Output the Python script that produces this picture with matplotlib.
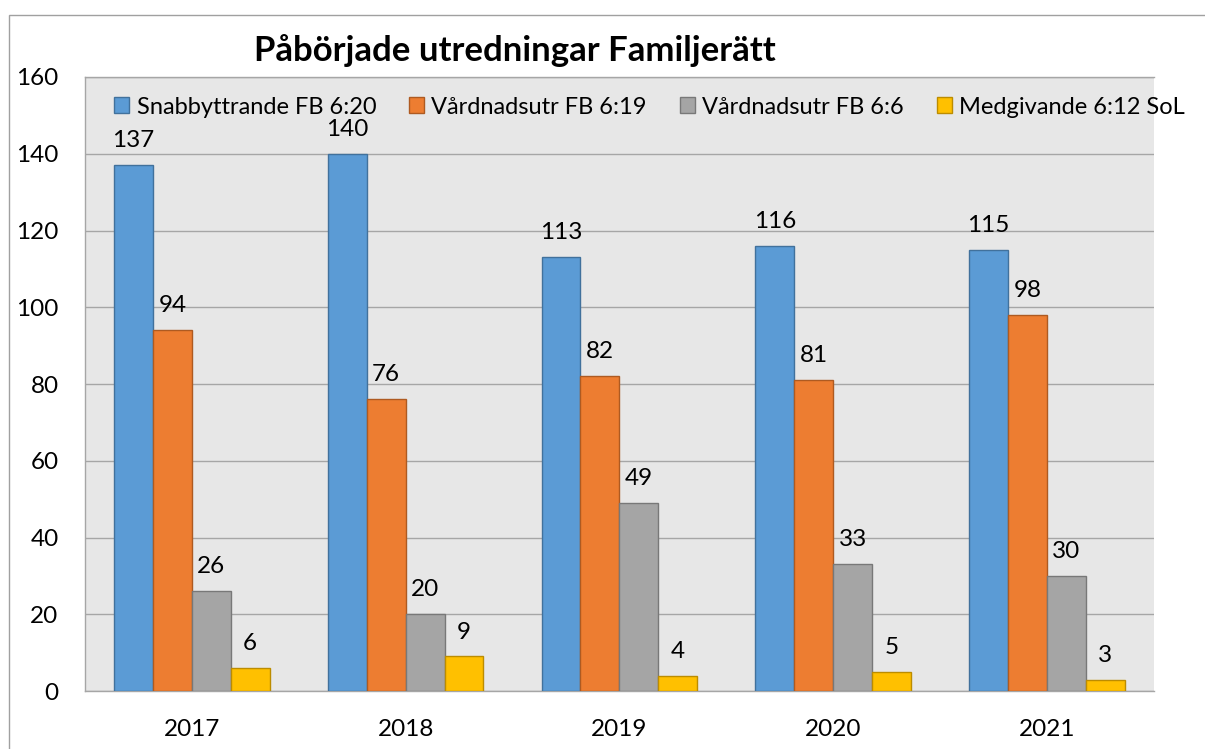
import matplotlib

matplotlib.use("Agg")
import matplotlib.pyplot as plt
from matplotlib.patches import Rectangle
import numpy as np

plt.rcParams["font.family"] = ["Lato", "DejaVu Sans"]

years = ["2017", "2018", "2019", "2020", "2021"]
series_names = [
    "Snabbyttrande FB 6:20",
    "Vårdnadsutr FB 6:19",
    "Vårdnadsutr FB 6:6",
    "Medgivande 6:12 SoL",
]
snabb = [137, 140, 113, 116, 115]
vard_619 = [94, 76, 82, 81, 98]
vard_66 = [26, 20, 49, 33, 30]
medgiv = [6, 9, 4, 5, 3]

FACE = ["#5b9bd5", "#ed7d31", "#a5a5a5", "#ffc000"]
EDGE = ["#41719c", "#ae5a21", "#787878", "#bc8c00"]

fig = plt.figure(figsize=(12.05, 7.49), dpi=100)
ax = fig.add_axes([0.0705, 0.0774, 0.887, 0.8198])
ax.set_facecolor("#e7e7e7")

x = np.arange(len(years))
w = 0.182
for i, (vals, name) in enumerate(zip([snabb, vard_619, vard_66, medgiv], series_names)):
    pos = x + (i - 1.5) * w
    bars = ax.bar(pos, vals, w, color=FACE[i], edgecolor=EDGE[i], lw=1.0,
                  label=name, zorder=3)
    for b, v in zip(bars, vals):
        ax.annotate(str(v), (b.get_x() + b.get_width() / 2, v),
                    xytext=(0, 10), textcoords="offset points",
                    ha="center", va="bottom", fontsize=17.5, zorder=4)

ax.set_ylim(0, 160)
ax.set_xlim(-0.5, len(years) - 0.5)
ax.set_yticks(range(0, 161, 20))
ax.set_xticks(x)
ax.set_xticklabels(years)
ax.tick_params(axis="both", length=0, labelsize=17.5)
ax.tick_params(axis="y", pad=19)
ax.tick_params(axis="x", pad=20)
ax.grid(axis="y", color="#a6a6a6", lw=1.0, zorder=1)
ax.spines["right"].set_visible(False)
for side in ("left", "bottom", "top"):
    ax.spines[side].set_color("#a6a6a6")
    ax.spines[side].set_linewidth(1.0)

leg = ax.legend(loc="upper left", bbox_to_anchor=(0.012, 0.995), ncol=4,
                frameon=False, fontsize=17, handlelength=0.64, handleheight=0.64,
                handletextpad=0.3, columnspacing=1.4, borderaxespad=0.3)

fig.text(0.427, 0.933, "Påbörjade utredningar Familjerätt", ha="center",
         va="center", fontsize=25, fontweight="bold")

fig.patches.append(Rectangle((0.0075, -0.01), 1.0, 0.99, transform=fig.transFigure,
                             fill=False, edgecolor="#a0a0a0", lw=1.0))

fig.savefig("out.png", dpi=100)
